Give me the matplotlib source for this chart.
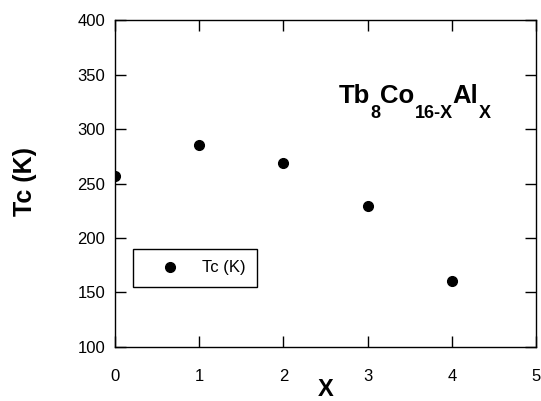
import matplotlib
matplotlib.use("Agg")
import matplotlib.pyplot as plt
import matplotlib.transforms as mtransforms
import numpy as np

# composition x and Curie temperature
x_al = np.array([0, 1, 2, 3, 4])
tc_k = np.array([257, 285, 269, 229, 161])

x_ticks = [0, 1, 2, 3, 4, 5]
y_ticks = [100, 150, 200, 250, 300, 350, 400]

# formula pieces: text, subscript or not
formula = [('Tb', False), ('8', True), ('Co', False), ('16-X', True),
           ('Al', False), ('X', True)]

plt.rcParams['font.family'] = ['Liberation Sans', 'DejaVu Sans']

fig = plt.figure(figsize=(5.41, 4.01), dpi=100)
ax = fig.add_axes([0.2126, 0.1347, 0.7782, 0.8153])

ax.plot(x_al, tc_k, 'o', color='black', markersize=7, label='Tc (K)')

ax.set_xlim(0, 5)
ax.set_ylim(100, 400)
ax.set_xticks(x_ticks)
ax.set_yticks(y_ticks)

ax.tick_params(direction='in', length=8, width=1, top=True, right=True,
               labelsize=12)
ax.tick_params(axis='x', pad=16)
ax.tick_params(axis='y', pad=7)
for s in ax.spines.values():
    s.set_linewidth(1)

ax.set_xlabel('X', fontsize=17, fontweight='bold')
ax.xaxis.set_label_coords(0.5, -0.094)
ax.set_ylabel('Tc (K)', fontsize=18, fontweight='bold')
ax.yaxis.set_label_coords(-0.185, 0.505)

leg = ax.legend(loc='lower left', bbox_to_anchor=(0.043, 0.183, 0.295, 0.116),
                mode='expand', borderaxespad=0, fancybox=False, fontsize=12,
                handlelength=3.0, handletextpad=0.44, borderpad=0.7,
                edgecolor='black', framealpha=1)
leg.get_frame().set_linewidth(1)

# compound label, subscripts dropped low like the original
fig.canvas.draw()
renderer = fig.canvas.get_renderer()
x_off = 0
for piece, is_sub in formula:
    size = 13 if is_sub else 18.5
    dy = -15 if is_sub else 0
    tr = mtransforms.offset_copy(ax.transData, fig=fig, x=x_off, y=dy, units='dots')
    t = ax.text(2.66, 324, piece, fontsize=size, fontweight='bold',
                ha='left', va='baseline', transform=tr)
    x_off += t.get_window_extent(renderer).width

fig.savefig('out.png', dpi=100)
